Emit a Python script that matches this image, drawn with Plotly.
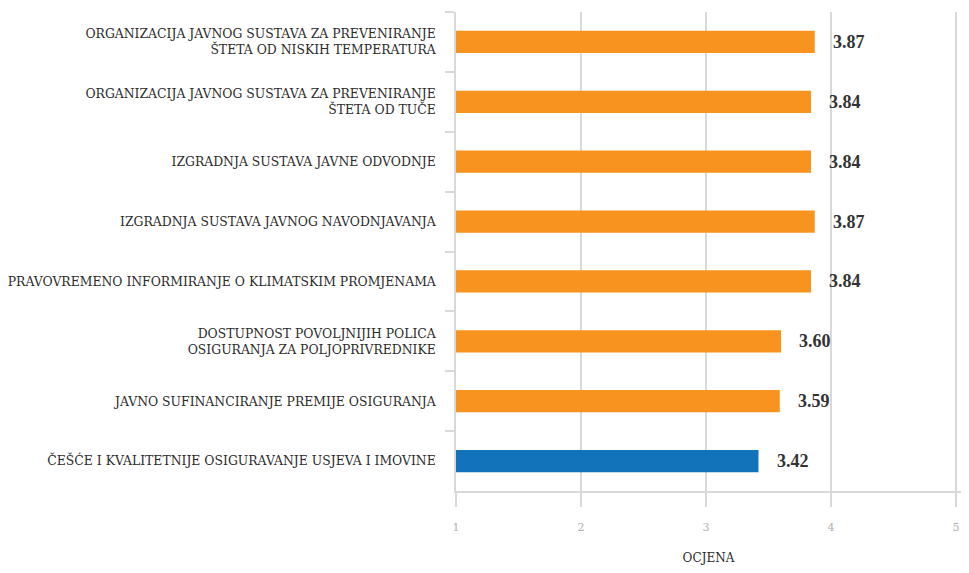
import plotly.graph_objects as go

# categories listed top to bottom, as in the picture
categories = [
    "ORGANIZACIJA JAVNOG SUSTAVA ZA PREVENIRANJE<br>ŠTETA OD NISKIH TEMPERATURA",
    "ORGANIZACIJA JAVNOG SUSTAVA ZA PREVENIRANJE<br>ŠTETA OD TUČE",
    "IZGRADNJA SUSTAVA JAVNE ODVODNJE",
    "IZGRADNJA SUSTAVA JAVNOG NAVODNJAVANJA",
    "PRAVOVREMENO INFORMIRANJE O KLIMATSKIM PROMJENAMA",
    "DOSTUPNOST POVOLJNIJIH POLICA<br>OSIGURANJA ZA POLJOPRIVREDNIKE",
    "JAVNO SUFINANCIRANJE PREMIJE OSIGURANJA",
    "ČEŠĆE I KVALITETNIJE OSIGURAVANJE USJEVA I IMOVINE",
]
scores = [3.87, 3.84, 3.84, 3.87, 3.84, 3.60, 3.59, 3.42]
bar_colours = ["#F7931E"] * 7 + ["#1273BA"]

x_ticks = [1, 2, 3, 4, 5]

SERIF = "DejaVu Serif"
GRID = "#d9d9d9"

fig = go.Figure()

# bars start at 1 (axis minimum)
fig.add_trace(go.Bar(
    y=categories,
    x=[s - 1 for s in scores],
    base=1,
    orientation="h",
    marker=dict(color=bar_colours, line=dict(width=0)),
    width=0.37,
    hoverinfo="skip",
    showlegend=False,
))

# value labels to the right of each bar
for cat, s in zip(categories, scores):
    fig.add_annotation(
        x=s, y=cat, text=f"<b>{s:.2f}</b>",
        xanchor="left", yanchor="middle", xshift=16, showarrow=False,
        font=dict(family="Liberation Serif", size=18, color="#333333"),
    )

# the page body adds an 8px margin, so the figure is sized to fit inside the window;
# range runs a little past 5 so the last gridline and its label stay visible
fig.update_layout(
    width=953, height=557,
    paper_bgcolor="white", plot_bgcolor="white",
    margin=dict(l=448, r=0, t=4, b=74),
    xaxis=dict(
        range=[1, 5.04], tickvals=x_ticks,
        showgrid=True, gridcolor=GRID, gridwidth=1.5,
        showline=True, linecolor=GRID, linewidth=1.5,
        ticks="outside", ticklen=14, tickcolor=GRID, tickwidth=1.5,
        ticklabelstandoff=11,
        tickfont=dict(family=SERIF, size=11, color="#b0b0b0"),
        title=dict(text="OCJENA", standoff=27,
                   font=dict(family=SERIF, size=12, color="#2b2b2b")),
        zeroline=False, automargin=False,
    ),
    yaxis=dict(
        autorange="reversed", automargin=False,
        showline=True, linecolor=GRID, linewidth=1.5,
        ticks="outside", tickson="boundaries", ticklen=9,
        tickcolor=GRID, tickwidth=1.5, ticklabelstandoff=16,
        tickfont=dict(family=SERIF, size=12.4, color="#2b2b2b"),
        showgrid=False,
    ),
)

fig.write_html("out.html")
